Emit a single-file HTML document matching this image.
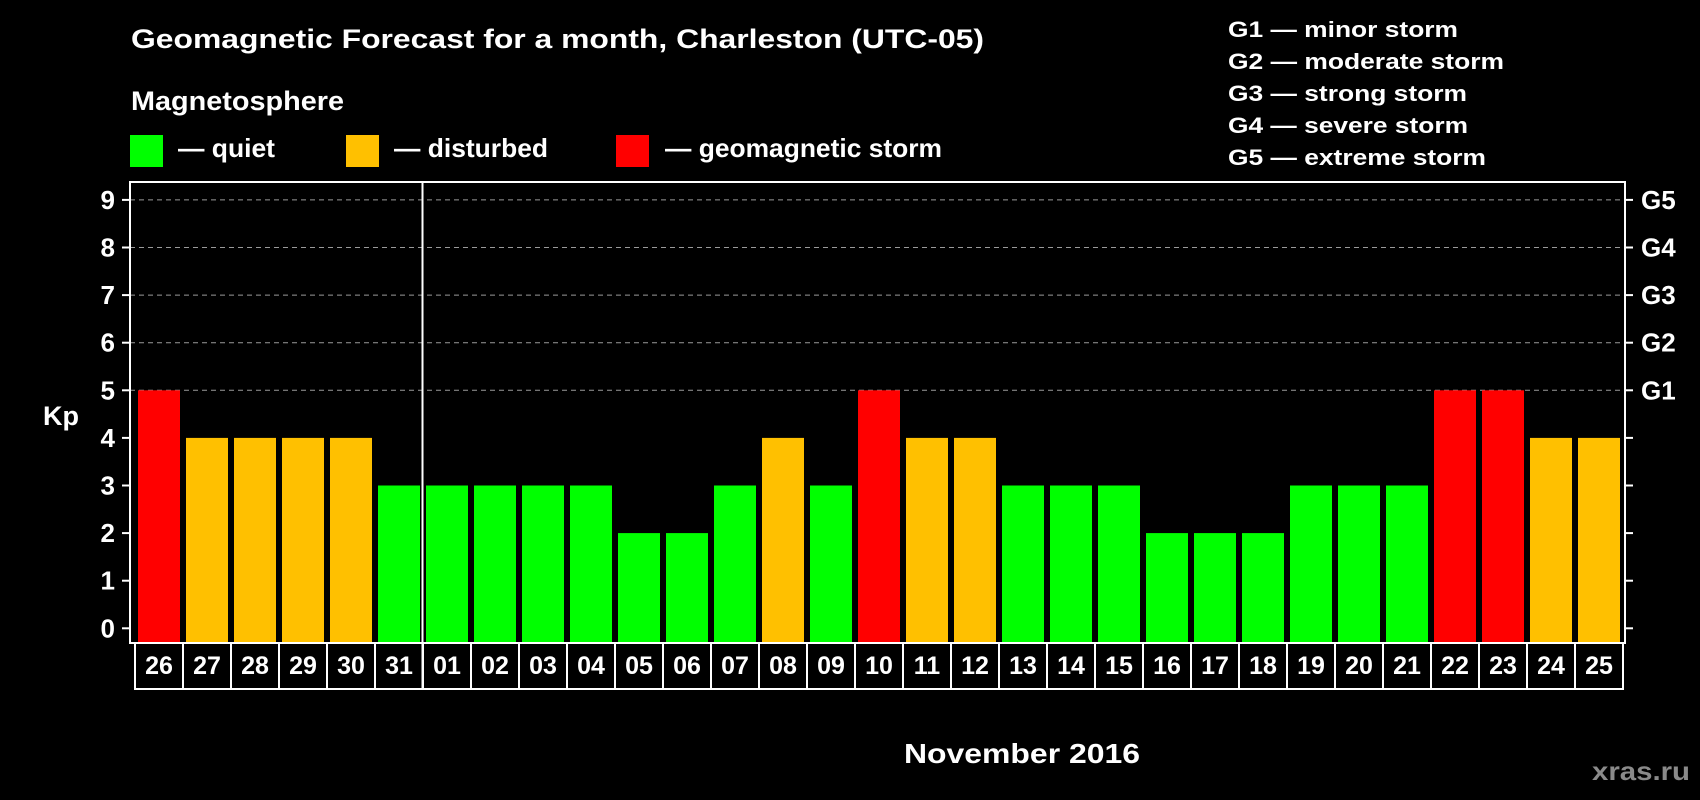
<!DOCTYPE html>
<html><head><meta charset="utf-8"><style>
html,body{margin:0;padding:0;background:#000;}
svg{display:block;font-family:"Liberation Sans",sans-serif;font-weight:bold;}
</style></head><body>
<svg id="chart" width="1700" height="800" viewBox="0 0 1700 800" xmlns="http://www.w3.org/2000/svg">
<rect x="0" y="0" width="1700" height="800" fill="#000"/>
<text x="131" y="48" fill="#fff" font-size="27" textLength="853" lengthAdjust="spacingAndGlyphs">Geomagnetic Forecast for a month, Charleston (UTC-05)</text>
<text x="131" y="110" fill="#fff" font-size="27" textLength="213" lengthAdjust="spacingAndGlyphs">Magnetosphere</text>
<g>
<rect x="130" y="135" width="33" height="32" fill="#00ff00"/>
<text x="178" y="157" fill="#fff" font-size="26" textLength="97" lengthAdjust="spacingAndGlyphs">— quiet</text></g>
<g>
<rect x="346" y="135" width="33" height="32" fill="#ffc000"/>
<text x="394" y="157" fill="#fff" font-size="26" textLength="154" lengthAdjust="spacingAndGlyphs">— disturbed</text></g>
<g>
<rect x="616" y="135" width="33" height="32" fill="#ff0000"/>
<text x="665" y="157" fill="#fff" font-size="26" textLength="277" lengthAdjust="spacingAndGlyphs">— geomagnetic storm</text></g>
<g fill="#fff" font-size="22">
<text x="1228" y="37" textLength="230" lengthAdjust="spacingAndGlyphs">G1 — minor storm</text>
<text x="1228" y="69" textLength="276" lengthAdjust="spacingAndGlyphs">G2 — moderate storm</text>
<text x="1228" y="101" textLength="239" lengthAdjust="spacingAndGlyphs">G3 — strong storm</text>
<text x="1228" y="133" textLength="240" lengthAdjust="spacingAndGlyphs">G4 — severe storm</text>
<text x="1228" y="165" textLength="258" lengthAdjust="spacingAndGlyphs">G5 — extreme storm</text>
</g>
<g id="grid"></g>
<g id="bars"></g>
<g id="axes"></g>
<text x="43" y="425" fill="#fff" font-size="27">Kp</text>
<text x="904" y="763" fill="#fff" font-size="28" textLength="236" lengthAdjust="spacingAndGlyphs">November 2016</text>
<text x="1592" y="780" fill="#8a8a8a" font-size="26" textLength="98" lengthAdjust="spacingAndGlyphs">xras.ru</text>
</svg>
<script>
const days = ["26","27","28","29","30","31","01","02","03","04","05","06","07","08","09","10","11","12","13","14","15","16","17","18","19","20","21","22","23","24","25"];
const kpValues = [5,4,4,4,4,3,3,3,3,3,2,2,3,4,3,5,4,4,3,3,3,2,2,2,3,3,3,5,5,4,4];
const yTicks = [0,1,2,3,4,5,6,7,8,9];
const gLabels = ["G1","G2","G3","G4","G5"];
const NS="http://www.w3.org/2000/svg";
const plotL=130, plotR=1625, plotT=182, plotB=643;
const y0=628.3, unit=47.6;
function yS(v){return y0 - v*unit;}
const pitch=48, barW=42, firstX=138;
function xS(i){return firstX + i*pitch;}
function mk(tag,attrs,parent){const e=document.createElementNS(NS,tag);for(const k in attrs)e.setAttribute(k,attrs[k]);parent.appendChild(e);return e;}
const grid=document.getElementById('grid'), bars=document.getElementById('bars'), axes=document.getElementById('axes');
yTicks.forEach(v=>{
  const y=yS(v);
  if(v>=5){const g=mk('line',{x1:plotL,x2:plotR,y1:y,y2:y,stroke:'#9a9a9a','stroke-width':1,'stroke-dasharray':'5,4'},grid);
    
    }
  mk('line',{x1:plotL-8,x2:plotL,y1:y,y2:y,stroke:'#fff','stroke-width':2},axes);
  mk('line',{x1:plotR,x2:plotR+8,y1:y,y2:y,stroke:'#fff','stroke-width':2},axes);
  const t=mk('text',{x:115,y:y+9,fill:'#fff','font-size':26,'text-anchor':'end'},axes);
  t.textContent=v;
  
  
});
gLabels.forEach((g,i)=>{
  const t=mk('text',{x:1641,y:yS(i+5)+9,fill:'#fff','font-size':26},axes);
  t.textContent=g;
  
  
});
kpValues.forEach((v,i)=>{
  const col=v>=5?'#ff0000':(v>=4?'#ffc000':'#00ff00');
  const r=mk('rect',{x:xS(i),y:yS(v),width:barW,height:plotB-1-yS(v),fill:col},bars);
  
  
});
// frame
const fr=mk('rect',{x:plotL,y:plotT,width:plotR-plotL,height:plotB-plotT,fill:'none',stroke:'#fff','stroke-width':2},axes);


// date label boxes
days.forEach((d,i)=>{
  const bx=135+i*pitch;
  const b=mk('rect',{x:bx,y:plotB,width:pitch,height:46,fill:'#000',stroke:'#fff','stroke-width':2},axes);
  
  
  const t=mk('text',{x:bx+pitch/2,y:plotB+31,fill:'#fff','font-size':25,'text-anchor':'middle'},axes);
  t.textContent=d;
  
  
});
const sep=mk('line',{x1:422.5,x2:422.5,y1:plotT,y2:689,stroke:'#fff','stroke-width':2},axes);


</script>
</body></html>
